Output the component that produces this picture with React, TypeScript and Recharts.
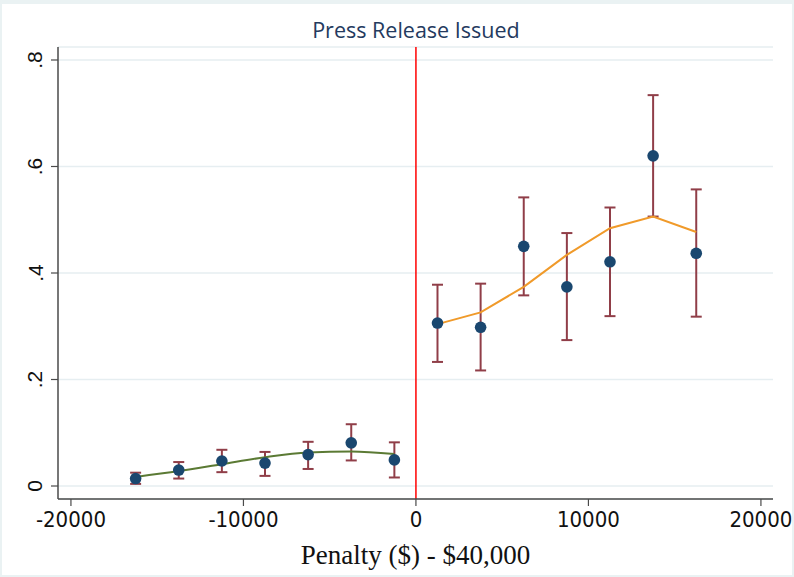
import React from "react";
import {
  ComposedChart,
  Scatter,
  Line,
  XAxis,
  YAxis,
  CartesianGrid,
  ReferenceLine,
  ErrorBar,
  Label,
} from "recharts";

// Bin centres (penalty minus $40,000)
const xLeft = [-16250, -13750, -11250, -8750, -6250, -3750, -1250];
const xRight = [1250, 3750, 6250, 8750, 11250, 13750, 16250];

// Bin means and 95% CI bounds, left of cutoff
const leftMean = [0.014, 0.030, 0.047, 0.043, 0.059, 0.081, 0.049];
const leftLo = [0.004, 0.014, 0.026, 0.019, 0.032, 0.048, 0.016];
const leftHi = [0.025, 0.045, 0.068, 0.064, 0.083, 0.116, 0.082];
const leftFit = [0.017, 0.028, 0.041, 0.054, 0.063, 0.065, 0.060];

// Right of cutoff
const rightMean = [0.306, 0.298, 0.450, 0.374, 0.421, 0.620, 0.437];
const rightLo = [0.233, 0.217, 0.358, 0.274, 0.319, 0.506, 0.318];
const rightHi = [0.378, 0.380, 0.542, 0.475, 0.523, 0.734, 0.557];
const rightFit = [0.304, 0.326, 0.374, 0.434, 0.484, 0.506, 0.477];

const xTicks = [-20000, -10000, 0, 10000, 20000];
const yTicks = [0, 0.2, 0.4, 0.6, 0.8];

const title = "Press Release Issued";
const xTitle = "Penalty ($) - $40,000";

const points = [
  ...xLeft.map((x, i) => ({ x, y: leftMean[i], err: [leftMean[i] - leftLo[i], leftHi[i] - leftMean[i]] })),
  ...xRight.map((x, i) => ({ x, y: rightMean[i], err: [rightMean[i] - rightLo[i], rightHi[i] - rightMean[i]] })),
];
const leftLine = xLeft.map((x, i) => ({ x, fit: leftFit[i] }));
const rightLine = xRight.map((x, i) => ({ x, fit: rightFit[i] }));

const MARKER = "#1a476f";
const CI = "#903e48";
const AXIS = "#4a4a4a";

const Dot = (props: any) => {
  const { cx, cy } = props;
  if (cx == null || cy == null) return null;
  return <circle cx={cx} cy={cy} r={5.8} fill={MARKER} />;
};
const NoDot = () => <g />;

const YTick = (props: any) => {
  const { y, payload } = props;
  const v = payload.value;
  const label = v === 0 ? "0" : String(v).replace(/^0/, "");
  return (
    <text
      x={35}
      y={y}
      transform={`rotate(-90, 35, ${y})`}
      textAnchor="middle"
      dominantBaseline="central"
      fontFamily="'Liberation Sans', Arial, sans-serif"
      fontSize={21}
      fill="#111"
    >
      {label}
    </text>
  );
};

const XTick = (props: any) => {
  const { x, payload } = props;
  return (
    <text
      x={x}
      y={527}
      textAnchor="middle"
      fontFamily="'DejaVu Sans Condensed', 'DejaVu Sans', sans-serif"
      style={{ fontStretch: "condensed" }}
      fontSize={22}
      fill="#111"
    >
      {String(payload.value)}
    </text>
  );
};

export default function App() {
  return (
    <div style={{ position: "absolute", left: 0, top: 0, width: 794, height: 577, background: "#fff" }}>
      <ComposedChart
        width={794}
        height={577}
        margin={{ top: 47, right: 21, bottom: 0, left: 0 }}
      >
        <CartesianGrid horizontal vertical={false} stroke="#e6eef1" strokeWidth={1.5} />
        <XAxis
          type="number"
          dataKey="x"
          domain={[-20750, 20700]}
          ticks={xTicks}
          allowDataOverflow
          height={78}
          tickSize={7}
          tick={<XTick />}
          axisLine={{ stroke: AXIS, strokeWidth: 1.5 }}
          tickLine={{ stroke: AXIS, strokeWidth: 1.2 }}
        >
          <Label
            content={(p: any) => {
              const vb = p.viewBox || {};
              return (
                <text
                  x={vb.x + vb.width / 2}
                  y={564}
                  textAnchor="middle"
                  fontFamily="'Liberation Serif', 'Times New Roman', serif"
                  fontSize={27}
                  fill="#111"
                >
                  {xTitle}
                </text>
              );
            }}
          />
        </XAxis>
        <YAxis
          type="number"
          dataKey="y"
          domain={[-0.0244, 0.8244]}
          ticks={yTicks}
          allowDataOverflow
          width={58}
          tickSize={7}
          tick={<YTick />}
          axisLine={{ stroke: AXIS, strokeWidth: 1.5 }}
          tickLine={{ stroke: AXIS, strokeWidth: 1.2 }}
        />
        <ReferenceLine
          x={0}
          stroke="#ff0000"
          strokeWidth={1.5}
          label={(p: any) => {
            const vb = p.viewBox || {};
            return (
              <text
                x={vb.x}
                y={38}
                textAnchor="middle"
                fontFamily="'Open Sans', 'Noto Sans', sans-serif"
                fontSize={21.5}
                fill="#243a5e"
              >
                {title}
              </text>
            );
          }}
        />
        <Scatter data={points} dataKey="y" shape={<Dot />} isAnimationActive={false} />
        <Scatter data={points} dataKey="y" shape={<NoDot />} isAnimationActive={false}>
          <ErrorBar dataKey="err" direction="y" width={5.5} stroke={CI} strokeWidth={2} />
        </Scatter>
        <Line
          data={leftLine}
          dataKey="fit"
          type="monotone"
          stroke="#5b7a34"
          strokeWidth={2}
          dot={false}
          activeDot={false}
          isAnimationActive={false}
        />
        <Line
          data={rightLine}
          dataKey="fit"
          type="linear"
          stroke="#f09a2a"
          strokeWidth={2}
          dot={false}
          activeDot={false}
          isAnimationActive={false}
        />
      </ComposedChart>
      <div
        style={{
          position: "absolute",
          left: 0,
          top: 0,
          width: 794,
          height: 577,
          boxSizing: "border-box",
          borderStyle: "solid",
          borderColor: "#eaf2f3",
          borderWidth: "4px 2px 2px 2px",
          pointerEvents: "none",
        }}
      />
    </div>
  );
}
